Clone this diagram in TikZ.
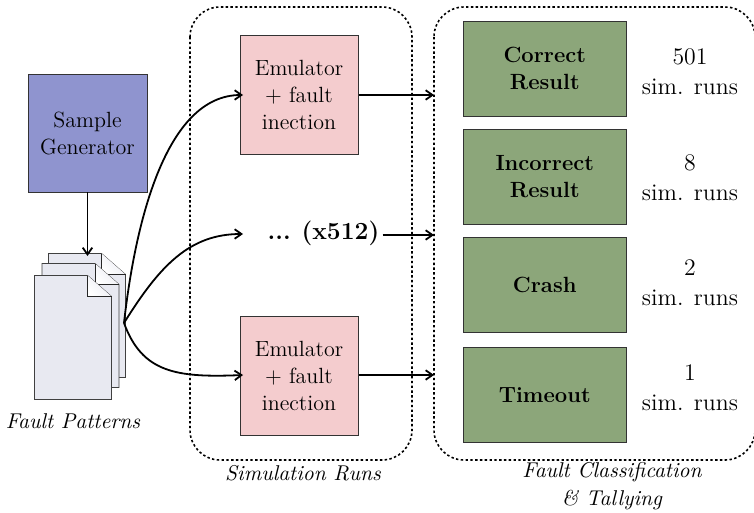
\documentclass[tikz,border=0pt]{standalone}
\usetikzlibrary{arrows.meta}
\definecolor{blueb}{HTML}{8F94CF}
\definecolor{pinkb}{HTML}{F4CCCE}
\definecolor{greenb}{HTML}{8CA67A}
\definecolor{paper}{HTML}{E8E9F1}
\tikzset{
  x=0.5pt,y=-0.5pt,
  boxbase/.style={draw=black!80,line width=0.25pt,align=center,inner sep=0pt,anchor=north west,font=\fontsize{11}{13.5}\selectfont},
  bluebox/.style={boxbase,fill=blueb,minimum width=59.25pt,minimum height=59pt},
  pinkbox/.style={boxbase,fill=pinkb,minimum width=59.25pt,minimum height=59.5pt},
  greenbox/.style={boxbase,fill=greenb,minimum width=81.5pt,minimum height=47.5pt,font=\fontsize{11}{13.5}\selectfont\bfseries},
  regionbox/.style={draw=black,line width=0.8pt,dash pattern=on 1.2pt off 1.2pt,rounded corners=15pt},
  countlabel/.style={align=center,inner sep=0pt,font=\fontsize{11.9}{15}\selectfont},
  capt/.style={align=center,inner sep=0pt,font=\fontsize{10.7}{14}\selectfont\itshape},
  arr/.style={draw=black,line width=0.9pt,-{Straight Barb[length=3.4pt,width=7pt,angle'=70]}},
  sheet/.style={draw=black!75,line width=0.4pt,fill=paper},
}
\newcommand{\docsheet}[2]{%
  \draw[sheet] (#1,#2) -- ++(53,0) -- ++(24,21) -- ++(0,103) -- ++(-77,0) -- cycle;
  \shade[left color=paper,right color=white,shading angle=-45] (#1+53,#2) -- ++(0,21) -- ++(24,0) -- cycle;
  \draw[draw=black!85,line width=0.45pt] (#1+53,#2) -- ++(0,21) -- ++(24,0);
}
\begin{document}
\begin{tikzpicture}
\useasboundingbox (0,0) rectangle (754,513);
\draw[regionbox] (190,7) rectangle (412,460);
\draw[regionbox] (434,7) rectangle (755,460);
\node[bluebox] (gen) at (28,74) {Sample\\Generator};
\node[pinkbox] (emua) at (239.5,35) {Emulator\\+ fault\\inection};
\node[pinkbox] (emub) at (239.5,316) {Emulator\\+ fault\\inection};
\node[inner sep=0pt,font=\fontsize{12.3}{14}\selectfont\bfseries] (dots) at (323.5,233) {...\hspace{-0.06em} (x512)};
\coordinate (dotsin) at (243,234);
\node[greenbox] (correct) at (463,21) {Correct\\Result};
\node[greenbox] (incorrect) at (463,129) {Incorrect\\Result};
\node[greenbox] (crash) at (463,237) {Crash};
\node[greenbox] (timeout) at (463,347) {Timeout};
\node[countlabel] (c1) at (690,72) {501\\sim. runs};
\node[countlabel] (c2) at (690,178) {8\\sim. runs};
\node[countlabel] (c3) at (690,282.5) {2\\sim. runs};
\node[countlabel] (c4) at (690,388) {1\\sim. runs};
\docsheet{48.5}{253.5}
\docsheet{42}{263.5}
\docsheet{34.5}{275.5}
\coordinate (fan) at (124,323);
\coordinate (docstop) at (87.5,256);
\coordinate (ina) at (243,95);
\coordinate (inb) at (243,375);
\node[capt] (cap1) at (73,421) {Fault Patterns};
\node[capt] (cap2) at (303,473) {Simulation Runs};
\node[capt] (cap3) at (612,486) {Fault Classification\\\&\ Tallying};
\coordinate (ra) at (434,95);
\coordinate (rb) at (434,235);
\coordinate (rc) at (434,375);
\draw[arr] (gen.south) -- (docstop);
\draw[arr] (fan) .. controls (135,225) and (165,95) .. (ina);
\draw[arr] (fan) .. controls (160,265) and (190,234) .. (dotsin);
\draw[arr] (fan) .. controls (142,372) and (175,378) .. (inb);
\draw[arr] (emua.east|-ra) -- (ra);
\draw[arr] (dots.east|-rb) ++(3,0) -- (rb);
\draw[arr] (emub.east|-rc) -- (rc);
\end{tikzpicture}
\end{document}
